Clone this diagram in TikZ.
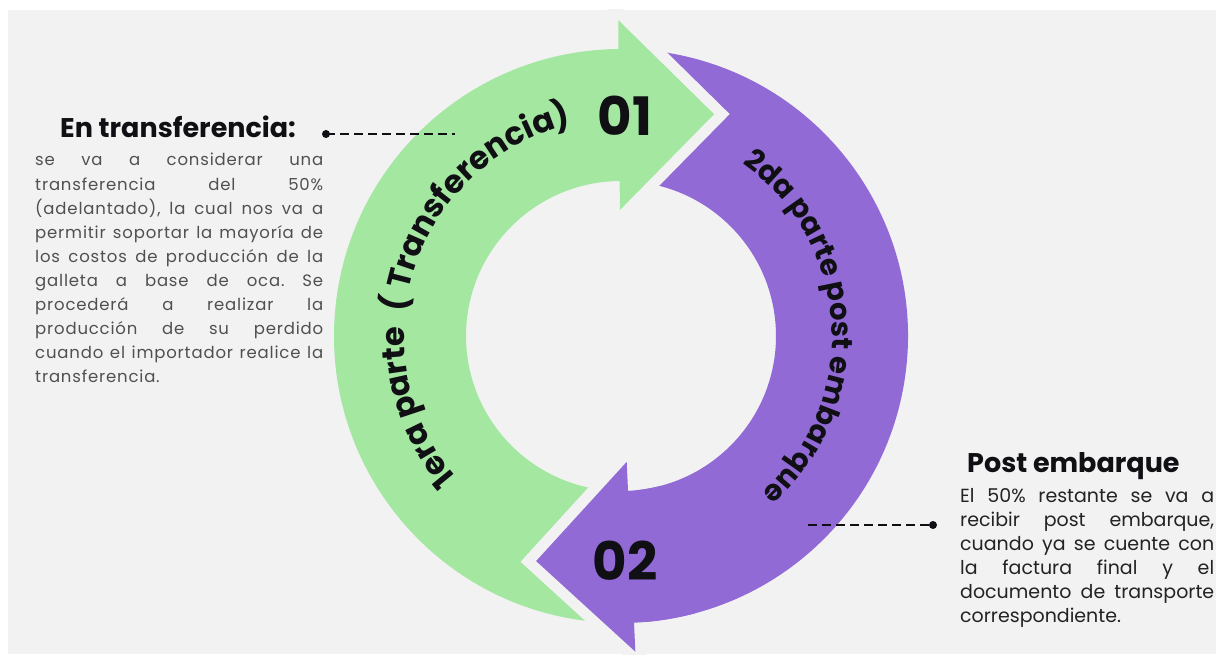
\documentclass[tikz,border=0pt]{standalone}
\usepackage{fontspec}
\setmainfont{Poppins}
\newfontfamily\bodyfont{Poppins}[LetterSpace=5]
\usetikzlibrary{calc,decorations.text}
\definecolor{bg}{RGB}{242,242,242}
\definecolor{grn}{RGB}{164,231,161}
\definecolor{prp}{RGB}{146,106,214}
\definecolor{bodyL}{RGB}{80,80,80}
\definecolor{bodyR}{RGB}{35,35,35}
\definecolor{ink}{RGB}{15,15,20}
\tikzset{
  halo/.style={preaction={draw=bg,line width=22pt}},
  headtxt/.style={anchor=base west,inner sep=0pt,text=ink,font=\bfseries\fontsize{27}{30}\selectfont},
  bodyl/.style={anchor=base west,inner sep=0pt,text=bodyL,font=\bodyfont\fontsize{16.5}{24}\selectfont},
  bodyr/.style={anchor=base west,inner sep=0pt,text=bodyR,font=\fontsize{19}{24}\selectfont},
  bignum/.style={inner sep=0pt,text=ink,font=\bfseries\fontsize{53}{60}\selectfont},
  dotn/.style={circle,fill=ink,inner sep=0pt,minimum size=8pt},
  dashln/.style={draw=ink,line width=2.2pt,dash pattern=on 9pt off 5pt},
  arctxt/.style 2 args={decorate,decoration={text along path,text align=center,
     text={|\bfseries\fontsize{#1}{34}\selectfont\color{ink}|#2}}}
}
\frenchspacing
\begin{document}
\begin{tikzpicture}[x=1pt,y=1pt]
\useasboundingbox (0,0) rectangle (1216,654);
\fill[white] (0,0) rectangle (1216,654);
\fill[bg] (8,0) rectangle (1216,644);
\coordinate (C) at (621,318);
\begin{scope}
\clip (8,0) rectangle (1216,644);
% purple full arrow
\fill[prp] ($(C)+(82:287)$) arc[start angle=82,end angle=-87.4,radius=287pt]
  -- ($(C)+(-87.4:316)$) -- ($(C)+(-87.4:221)+(-177.4:95)$) -- ($(C)+(-87.4:126)$)
  -- ($(C)+(-87.4:155)$) arc[start angle=-87.4,end angle=82,radius=155pt] -- cycle;
% green full arrow
\fill[grn,halo] ($(C)+(265:287)$) arc[start angle=265,end angle=90.5,radius=287pt]
  -- ($(C)+(90.5:316)$) -- ($(C)+(90.5:221)+(0.5:95)$) -- ($(C)+(90.5:126)$)
  -- ($(C)+(90.5:155)$) arc[start angle=90.5,end angle=265,radius=155pt] -- cycle;
% purple head over green tail
\fill[prp,halo] ($(C)+(-87.4:316)$) -- ($(C)+(-87.4:221)+(-177.4:95)$) -- ($(C)+(-87.4:126)$) -- cycle;
\fill[prp] ($(C)+(-75:287)$) arc[start angle=-75,end angle=-87.6,radius=287pt]
  -- ($(C)+(-87.6:155)$) arc[start angle=-87.6,end angle=-75,radius=155pt] -- cycle;
\end{scope}
% curved texts
\path[arctxt={32}{1era parte{\hspace{14pt}}( Transferencia)}] ($(C)+(222:217)$) arc[start angle=222,end angle=102,radius=217pt];
\path[arctxt={29}{2da parte post embarque}] ($(C)+(63.4:211)$) arc[start angle=63.4,end angle=-56.6,radius=211pt];
% numbers
\node[bignum] (n1) at (625,538) {01};
\node[bignum] (n2) at (625,93) {02};
% left block
\node[headtxt] (h1) at (60,516) {En transferencia:};
\node[bodyl] (l1) at (35,488) {\makebox[288pt][s]{se va a considerar una}};
\node[bodyl] (l2) at (35,463.9) {\makebox[288pt][s]{transferencia del 50\%}};
\node[bodyl] (l3) at (35,439.8) {\makebox[288pt][s]{(adelantado), la cual nos va a}};
\node[bodyl] (l4) at (35,415.7) {\makebox[288pt][s]{permitir soportar la mayoría de}};
\node[bodyl] (l5) at (35,391.6) {\makebox[288pt][s]{los costos de producción de la}};
\node[bodyl] (l6) at (35,367.5) {\makebox[288pt][s]{galleta a base de oca. Se}};
\node[bodyl] (l7) at (35,343.4) {\makebox[288pt][s]{procederá a realizar la}};
\node[bodyl] (l8) at (35,319.3) {\makebox[288pt][s]{producción de su perdido}};
\node[bodyl] (l9) at (35,295.2) {\makebox[288pt][s]{cuando el importador realice la}};
\node[bodyl] (l10) at (35,271.1) {transferencia.};
\node[dotn] (d1) at (326,520) {};
\coordinate (e1) at (455,520);
\draw[dashln] (d1.center) -- (e1);
% right block
\node[headtxt] (h2) at (967,182) {Post embarque};
\node[bodyr] (r1) at (960,151) {\makebox[254pt][s]{El 50\% restante se va a}};
\node[bodyr] (r2) at (960,127.2) {\makebox[254pt][s]{recibir post embarque,}};
\node[bodyr] (r3) at (960,103.4) {\makebox[254pt][s]{cuando ya se cuente con}};
\node[bodyr] (r4) at (960,79.6) {\makebox[254pt][s]{la factura final y el}};
\node[bodyr] (r5) at (960,55.8) {\makebox[254pt][s]{documento de transporte}};
\node[bodyr] (r6) at (960,32) {correspondiente.};
\node[dotn] (d2) at (933,129) {};
\coordinate (e2) at (808,129);
\draw[dashln] (e2) -- (d2.center);
\end{tikzpicture}
\end{document}
